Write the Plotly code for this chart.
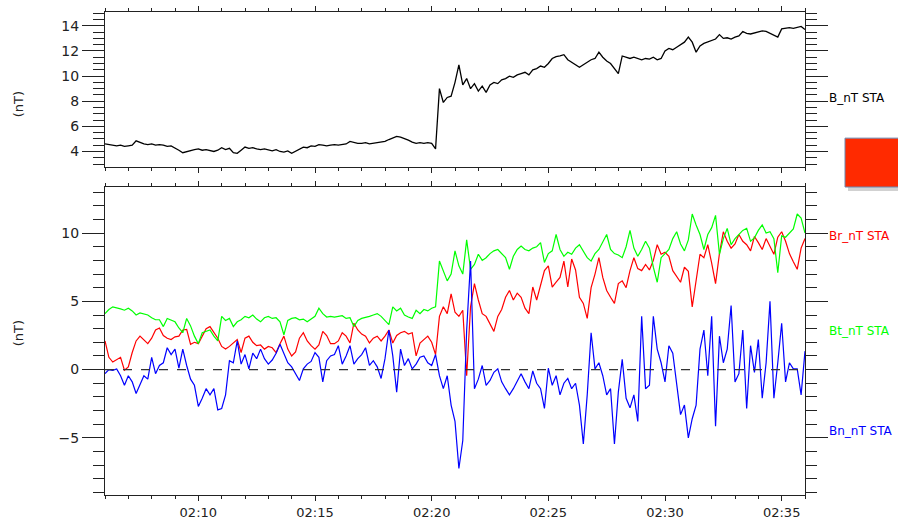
import pandas as pd
import plotly.graph_objects as go
from plotly.subplots import make_subplots

# 10-second samples, 02:06:00 - 02:36:00
t_start = "2014-01-01 02:06:00"
n_samples = 181

# |B| (nT), six samples per minute
b_total = [
    4.6, 4.55, 4.5, 4.45, 4.5, 4.4,
    4.45, 4.5, 4.85, 4.7, 4.6, 4.55,
    4.6, 4.5, 4.55, 4.5, 4.4, 4.45,
    4.3, 4.1, 3.9, 4.0, 4.1, 4.15,
    4.2, 4.1, 4.15, 4.05, 4.0, 4.1,
    4.3, 4.15, 4.25, 3.9, 3.85, 4.1,
    4.35, 4.25, 4.3, 4.2, 4.15, 4.2,
    4.1, 4.05, 4.15, 4.0, 3.95, 4.05,
    3.85, 4.0, 4.2, 4.35, 4.3, 4.45,
    4.4, 4.55, 4.5, 4.45, 4.5, 4.55,
    4.5, 4.55, 4.6, 4.8, 4.7, 4.65,
    4.65, 4.7, 4.6, 4.65, 4.7, 4.75,
    4.8, 4.95, 5.1, 5.2, 5.15, 5.05,
    4.9, 4.75, 4.65, 4.7, 4.65, 4.7,
    4.65, 4.2, 9.0, 7.9, 8.3, 8.4,
    9.5, 10.9, 9.3, 9.8, 9.0, 9.4,
    8.8, 9.2, 8.7, 9.3, 9.5, 9.4,
    9.7, 9.8, 10.0, 9.9, 10.1, 10.2,
    10.3, 10.1, 10.5, 10.6, 10.8, 10.7,
    11.0, 11.4, 11.55, 11.6, 11.7, 11.3,
    11.1, 10.9, 10.7, 10.9, 11.1, 11.3,
    11.4, 11.9, 11.5, 11.2, 11.0, 10.6,
    10.2, 11.6, 11.5, 11.4, 11.5, 11.4,
    11.3, 11.4, 11.35, 11.5, 11.3, 11.4,
    12.0, 12.2, 12.1, 12.3, 12.5, 12.7,
    13.1, 12.7, 11.9, 12.4, 12.6, 12.7,
    12.85, 12.95, 13.3, 13.0, 13.05, 12.95,
    13.1, 13.2, 13.55, 13.4, 13.35, 13.45,
    13.5, 13.6, 13.55, 13.4, 13.3, 13.1,
    13.75, 13.8, 13.85, 13.8, 13.9, 13.95,
    13.7,
]

# Br (nT)
b_r = [
    2.1, 0.9, 0.55, 0.7, 0.9, -0.05,
    0.2, 1.25, 2.1, 2.45, 2.2, 1.9,
    2.3, 2.9, 3.05, 2.5, 2.3, 2.2,
    2.4, 2.45, 2.9, 2.95, 1.85, 2.0,
    1.9, 2.45, 3.0, 3.15, 2.7, 2.3,
    1.7, 1.5, 1.7, 1.95, 2.2, 1.25,
    2.3, 2.45, 2.0, 1.75, 1.8, 1.5,
    1.7, 1.6, 1.25, 1.9, 2.45, 1.5,
    1.0, 1.3, 2.3, 2.7, 2.1, 1.75,
    1.5, 1.8, 2.8, 2.5, 1.9, 1.9,
    2.1, 2.7, 2.45, 1.95, 3.4, 2.9,
    2.6, 2.45, 1.95, 2.3, 2.45, 2.1,
    2.45, 2.9, 1.95, 2.5, 2.7, 2.8,
    2.6, 2.7, 1.0, 1.95, 2.2, 2.45,
    2.0, 1.1, 3.9, 4.6, 4.1, 5.55,
    4.2, 3.9, 4.35, -0.45, 4.6, 6.3,
    5.1, 4.1, 3.9, 3.3, 2.8, 3.9,
    4.4, 5.3, 5.8, 5.1, 5.6, 5.3,
    4.5, 4.1, 6.05, 5.1, 6.2, 7.25,
    7.6, 6.05, 6.4, 6.75, 7.95, 6.05,
    8.1, 7.3, 5.3, 4.85, 3.75, 6.0,
    7.0, 8.2, 6.75, 5.8, 5.3, 4.85,
    6.3, 6.5, 6.0, 7.25, 8.2, 7.4,
    7.25, 7.7, 7.3, 8.0, 9.15, 8.45,
    8.6, 8.3, 7.25, 6.8, 6.4, 7.5,
    7.2, 4.6, 6.7, 8.45, 8.2, 9.15,
    7.8, 6.3, 8.5, 10.1, 9.4, 8.9,
    9.2, 9.9, 9.4, 9.15, 8.7, 9.75,
    9.3, 8.8, 9.6, 9.0, 8.45, 9.7,
    10.1, 9.4, 8.5, 7.9, 7.35, 8.9,
    9.6,
]

# Bt (nT)
b_t = [
    4.1, 4.4, 4.6, 4.55, 4.45, 4.35,
    4.5, 4.3, 4.0, 4.15, 4.1, 4.0,
    3.8, 3.65, 3.65, 3.15, 3.75, 3.6,
    3.5, 3.05, 2.7, 3.75, 3.2, 2.45,
    1.9, 2.7, 2.8, 2.9, 2.45, 2.1,
    3.9, 3.6, 3.75, 3.15, 3.5, 3.65,
    3.9, 3.8, 4.0, 3.7, 3.5, 3.8,
    3.9, 3.75, 3.8, 3.5, 2.55, 3.6,
    3.75, 3.8, 3.65, 3.7, 3.5, 3.7,
    3.9, 4.5, 4.1, 3.85, 3.9, 3.85,
    3.9, 3.95, 3.75, 3.8, 3.15, 3.6,
    3.75, 3.8, 3.9, 4.0, 4.1, 3.9,
    3.6, 3.3, 4.6, 4.3, 4.5, 4.0,
    3.85, 3.75, 4.35, 4.1, 4.4, 4.3,
    4.5, 4.6, 7.95, 7.2, 6.5, 7.0,
    8.7, 7.6, 7.0, 9.5, 7.35, 7.7,
    8.45, 8.0, 8.2, 8.5, 8.7, 8.8,
    8.5, 8.2, 7.35, 8.3, 8.8, 9.05,
    8.8, 8.7, 8.9, 9.0, 9.3, 7.85,
    8.5, 8.7, 9.9, 8.8, 8.3, 8.6,
    8.45, 8.9, 9.15, 8.7, 8.2, 7.95,
    8.5, 8.8, 9.3, 9.9, 8.8, 8.5,
    8.4, 8.2, 9.0, 10.2, 8.9, 8.3,
    8.8, 9.4, 8.9, 7.5, 6.4, 8.2,
    8.5, 8.8, 9.6, 10.1, 9.2, 8.7,
    9.5, 11.4, 10.6, 9.9, 8.8, 9.9,
    10.4, 11.3, 8.45, 9.6, 10.35, 9.15,
    9.6, 9.9, 10.2, 10.35, 9.4, 9.65,
    10.2, 10.6, 10.0, 10.1, 9.6, 7.1,
    9.8, 9.7, 10.0, 10.3, 11.4, 11.1,
    10.0,
]

# Bn (nT)
b_n = [
    -0.3, 0.0, -0.05, 0.05, -0.45, -1.15,
    -0.45, -0.9, -1.75, -1.15, -0.45, -0.7,
    0.9, -0.3, 0.3, 0.5, 1.6, 1.1,
    1.5, 0.1, 1.5, 0.3, -0.7, -1.15,
    -2.7, -2.1, -1.4, -1.85, -1.4, -2.95,
    -2.85, -1.85, 0.65, 0.5, 2.1, 0.4,
    1.1, 0.05, 1.2, 0.8, 1.5, 0.8,
    0.4, 0.7, 1.2, 1.85, 1.2, 0.5,
    0.2, -0.3, -0.8, 0.05, 0.4, 0.6,
    1.25, 0.9, -0.9, 0.65, 1.0, 1.1,
    1.75, 0.4, 1.0, 1.75, 0.4, 0.8,
    1.1, 1.6, 0.3, 0.65, 0.2, -0.65,
    0.8, 2.9, 1.0, -1.65, 1.5, 0.3,
    0.8, 0.05, 0.4, 0.9, 1.0, 0.5,
    0.3, 1.1, -0.45, -1.4, -0.45, -2.6,
    -3.8, -7.25, -5.2, 2.9, 7.95, -1.4,
    -0.7, 0.3, -1.15, -0.8, -0.2, 0.05,
    -0.9, -1.4, -1.85, -1.4, -0.9, -0.3,
    -0.9, -1.4, -0.1, -1.0, -1.4, -2.85,
    0.1, -1.15, -0.45, -1.85, -1.0, -0.65,
    -1.4, -1.0, -2.6, -5.45, -1.85, 2.7,
    0.05, 0.5, -0.45, -1.85, -1.4, -5.45,
    -1.65, 0.75, -2.1, -2.8, -1.85, -3.8,
    3.9, -1.4, -1.15, 3.9, 1.5, 0.5,
    -0.9, 1.75, 1.2, -1.15, -3.3, -2.6,
    -5.0, -3.6, -2.6, 1.5, 2.9, -0.45,
    3.9, -4.15, 2.45, 0.5, 1.5, 4.7,
    -0.9, -0.3, 2.9, -2.85, 1.75, -0.2,
    2.2, -2.1, 0.5, 5.0, -2.1, 0.5,
    3.4, -0.9, 0.5, 0.05, 0.05, -1.85,
    1.35,
]

times = pd.date_range(t_start, periods=n_samples, freq="10s")
for s in (b_total, b_r, b_t, b_n):
    assert len(s) == n_samples

top_labels = ["B_nT STA"]
bottom_labels = ["Br_nT STA", "Bt_nT STA", "Bn_nT STA"]
bottom_colors = ["#ff0000", "#00ff00", "#0000ff"]

FONT = "DejaVu Sans"
AX = "#222222"

fig = make_subplots(rows=2, cols=1, shared_xaxes=False, vertical_spacing=0.0)

fig.add_trace(go.Scatter(x=times, y=b_total, mode="lines",
                         line=dict(color="black", width=1.3)), row=1, col=1)
for vals, col in zip([b_r, b_t, b_n], bottom_colors):
    fig.add_trace(go.Scatter(x=times, y=vals, mode="lines",
                             line=dict(color=col, width=1.2)), row=2, col=1)

x_range = ["2014-01-01 02:06:00", "2014-01-01 02:36:00"]
common_x = dict(
    range=x_range, type="date", tick0="2014-01-01 02:10:00", dtick=300000,
    tickformat="%H:%M", showline=True, linecolor=AX, linewidth=1,
    mirror="allticks", ticks="outside", ticklen=5, tickcolor=AX,
    minor=dict(dtick=60000, ticks="outside", ticklen=3, tickcolor=AX),
    showgrid=False, zeroline=False,
    tickfont=dict(family=FONT, size=13, color=AX),
)
fig.update_xaxes(**common_x)
fig.update_xaxes(showticklabels=False, row=1, col=1)

common_y = dict(
    showline=True, linecolor=AX, linewidth=1, mirror="allticks",
    ticks="outside", ticklen=22, tickcolor=AX, showgrid=False, zeroline=False,
    tickfont=dict(family=FONT, size=14, color=AX),
)
fig.update_yaxes(**common_y)
fig.update_yaxes(range=[2.8, 15.1], tick0=0, dtick=2,
                 minor=dict(dtick=0.5, ticks="outside", ticklen=11, tickcolor=AX),
                 domain=[0.680, 1.0], row=1, col=1)
fig.update_yaxes(range=[-9.19, 13.38], tick0=0, dtick=5,
                 minor=dict(dtick=1, ticks="outside", ticklen=11, tickcolor=AX),
                 domain=[0.0, 0.6377], row=2, col=1)

# dashed zero reference in the component panel
fig.add_shape(type="line", xref="x2 domain", yref="y2", x0=0, x1=1, y0=0, y1=0,
              line=dict(color="#333333", width=1.2, dash="dash"))

W = 700.0
H = 494.0
def px_x(px):
    return (px - 105) / W

def px_y(py):
    return (500 - py) / H

# unit labels
for py in (85, 350):
    fig.add_annotation(text="(nT)", xref="paper", yref="paper", x=px_x(18), y=px_y(py),
                       textangle=-90, showarrow=False, xanchor="center",
                       font=dict(family=FONT, size=13, color=AX))

# series names on the right
fig.add_annotation(text=top_labels[0], xref="paper", yref="paper",
                   x=px_x(827), y=px_y(85), xanchor="left", showarrow=False,
                   font=dict(family=FONT, size=12, color="black"))
for lab, col, py in zip(bottom_labels, bottom_colors, [235, 341, 444]):
    fig.add_annotation(text=lab, xref="paper", yref="paper",
                       x=px_x(827), y=px_y(py), xanchor="left", showarrow=False,
                       font=dict(family=FONT, size=12, color=col))

# red marker box at the right edge, with a soft shadow
fig.add_shape(type="rect", xref="paper", yref="paper",
              x0=px_x(848), x1=px_x(904), y0=px_y(189), y1=px_y(138),
              line=dict(width=0), fillcolor="rgba(0,0,0,0.18)", layer="above")
fig.add_shape(type="rect", xref="paper", yref="paper",
              x0=px_x(845), x1=px_x(904), y0=px_y(185), y1=px_y(135),
              line=dict(color="#6b88b0", width=1), fillcolor="#ff2a00", layer="above")

fig.update_layout(
    width=898, height=526,
    margin=dict(l=105, r=93, t=6, b=26),
    paper_bgcolor="white", plot_bgcolor="white",
    showlegend=False,
    font=dict(family=FONT, color=AX),
)

fig.write_html("out.html")
